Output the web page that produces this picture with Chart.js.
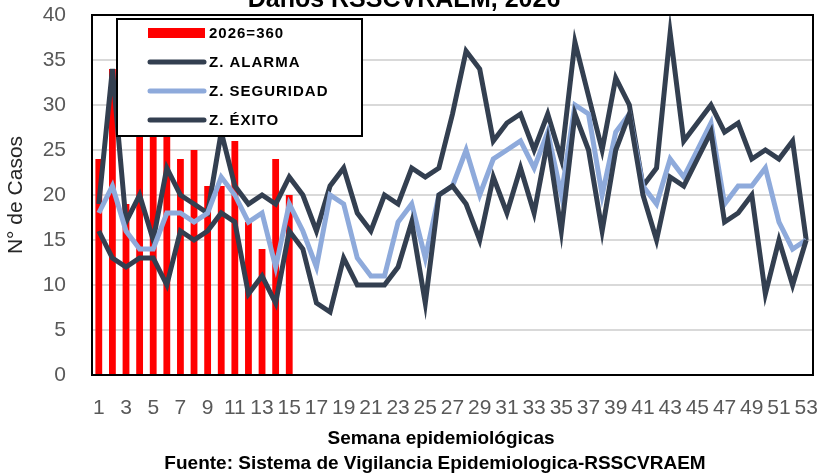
<!DOCTYPE html>
<html lang="es">
<head>
<meta charset="UTF-8" />
<title>Casos por semana epidemiológica 2026</title>
<script src="https://cdn.jsdelivr.net/npm/chart.js"></script>
<style>
  html, body { margin: 0; padding: 0; background: #fff; }
</style>
</head>
<body>
<canvas id="chart" width="822" height="476"></canvas>
<script>
  const semanas = ['1', '2', '3', '4', '5', '6', '7', '8', '9', '10', '11', '12', '13', '14', '15', '16', '17', '18',
    '19', '20', '21', '22', '23', '24', '25', '26', '27', '28', '29', '30', '31', '32', '33', '34', '35', '36',
    '37', '38', '39', '40', '41', '42', '43', '44', '45', '46', '47', '48', '49', '50', '51', '52', '53'];

  const casos2026 = [24, 34, 19, 30, 31, 30, 24, 25, 21, 21, 26, 17, 14, 24, 20];

  const zonaAlarma = [19, 34, 17, 20, 15, 23, 20, 19, 18, 27, 21, 19, 20, 19, 22, 20, 16, 21, 23, 18, 16, 20, 19, 23, 22, 23,
    29, 36, 34, 26, 28, 29, 25, 29, 24, 37, 31, 25, 33, 30, 21, 23, 38, 26, 28, 30, 27, 28, 24, 25, 24, 26, 15];

  const zonaSeguridad = [18, 21, 16, 14, 14, 18, 18, 17, 18, 22, 20, 17, 18, 12, 19, 16, 12, 20, 19, 13, 11, 11, 17, 19, 13, 20,
    21, 25, 20, 24, 25, 26, 23, 27, 20, 30, 29, 20, 27, 29, 21, 19, 24, 22, 25, 28, 19, 21, 21, 23, 17, 14, 15];

  const zonaExito = [16, 13, 12, 13, 13, 10, 16, 15, 16, 18, 17, 9, 11, 8, 16, 14, 8, 7, 13, 10, 10, 10, 12, 17, 8, 20,
    21, 19, 15, 22, 18, 23, 18, 26, 16, 29, 25, 16, 25, 29, 20, 15, 22, 21, 24, 27, 17, 18, 20, 9, 15, 10, 15];

  const titulo = 'Daños RSSCVRAEM, 2026';
  const tituloX = 'Semana epidemiológicas';
  const fuente = 'Fuente: Sistema de Vigilancia Epidemiologica-RSSCVRAEM';

  const ROJO = '#FF0000';
  const OSCURO = '#333F50';
  const CLARO = '#8EAADB';
  const GRIS = '#595959';

  Chart.defaults.font.family = '"Liberation Sans", Arial, sans-serif';

  // marco, leyenda en recuadro y textos de titulo / pie
  const extras = {
    id: 'extras',
    afterDatasetsDraw(chart) {
      const { ctx, chartArea: a } = chart;
      ctx.save();
      ctx.strokeStyle = '#000';
      ctx.lineWidth = 2;
      ctx.strokeRect(a.left, a.top, a.right - a.left, a.bottom - a.top);

      // leyenda
      const lx = a.left + 25, ly = a.top + 4, lw = 245, lh = 117;
      ctx.fillStyle = '#fff';
      ctx.fillRect(lx, ly, lw, lh);
      ctx.strokeRect(lx, ly, lw, lh);
      ctx.font = 'bold 15px "Liberation Sans", Arial, sans-serif';
      ctx.textBaseline = 'middle';
      ctx.letterSpacing = '1px';
      chart.data.datasets.forEach((ds, i) => {
        const y = ly + 14 + i * 29;
        if (ds.type === 'bar') {
          ctx.fillStyle = ds.backgroundColor;
          ctx.fillRect(lx + 31, y - 5, 57, 10);
        } else {
          ctx.strokeStyle = ds.borderColor;
          ctx.lineWidth = 5;
          ctx.lineCap = 'round';
          ctx.beginPath();
          ctx.moveTo(lx + 33, y);
          ctx.lineTo(lx + 87, y);
          ctx.stroke();
        }
        ctx.fillStyle = '#000';
        ctx.fillText(ds.label, lx + 92, y + 1);
      });
      ctx.restore();
    },
    afterDraw(chart) {
      const { ctx } = chart;
      ctx.save();
      ctx.fillStyle = '#000';
      ctx.textAlign = 'center';
      ctx.textBaseline = 'alphabetic';
      ctx.font = 'bold 25px "Liberation Sans", Arial, sans-serif';
      ctx.fillText(titulo, 404, 7);
      ctx.textBaseline = 'middle';
      ctx.font = 'bold 19px "Liberation Sans", Arial, sans-serif';
      ctx.fillText(tituloX, 441, 439);
      ctx.fillText(fuente, 435, 464);
      ctx.restore();
    }
  };

  new Chart(document.getElementById('chart'), {
    data: {
      labels: semanas,
      datasets: [
        {
          type: 'bar',
          label: '2026=360',
          data: casos2026,
          backgroundColor: ROJO,
          barPercentage: 0.5,
          categoryPercentage: 1,
          order: 4
        },
        {
          type: 'line',
          label: 'Z. ALARMA',
          data: zonaAlarma,
          borderColor: OSCURO,
          borderWidth: 5,
          pointRadius: 0,
          order: 3
        },
        {
          type: 'line',
          label: 'Z. SEGURIDAD',
          data: zonaSeguridad,
          borderColor: CLARO,
          borderWidth: 5,
          pointRadius: 0,
          order: 2
        },
        {
          type: 'line',
          label: 'Z. ÉXITO',
          data: zonaExito,
          borderColor: OSCURO,
          borderWidth: 5,
          pointRadius: 0,
          order: 1
        }
      ]
    },
    options: {
      responsive: false,
      animation: false,
      layout: { padding: { top: 15, right: 9, left: 0, bottom: 0 } },
      plugins: { legend: { display: false }, tooltip: { enabled: false } },
      scales: {
        x: {
          grid: { display: false },
          border: { display: false },
          ticks: {
            color: GRIS,
            font: { size: 21 },
            padding: 13,
            autoSkip: false,
            maxRotation: 0,
            callback: (v, i) => (i % 2 === 0 ? semanas[i] : '')
          },
          afterFit: s => {
            s.height = 101;
            s.paddingLeft = 0;
            s.paddingRight = 0;
          }
        },
        y: {
          min: 0,
          max: 40,
          ticks: { stepSize: 5, color: GRIS, font: { size: 21 }, padding: 26 },
          grid: { color: '#D9D9D9', lineWidth: 2, drawTicks: false },
          border: { display: false },
          title: {
            display: true,
            text: 'N° de Casos',
            color: '#262626',
            font: { size: 21 },
            padding: { top: 4, bottom: 0 }
          },
          afterFit: s => {
            s.width = 92;
            s.paddingTop = 0;
            s.paddingBottom = 0;
          }
        }
      }
    },
    plugins: [extras]
  });
</script>
</body>
</html>
